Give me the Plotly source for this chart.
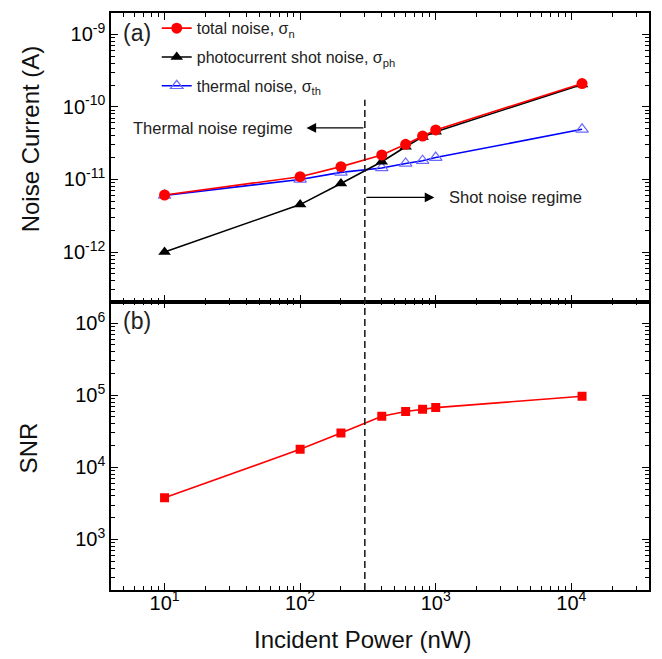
import numpy as np
import plotly.graph_objects as go

# ---------------- data ----------------
power_nW = [10, 100, 200, 400, 600, 800, 1000, 12000]
total_noise = [6.1e-12, 1.09e-11, 1.50e-11, 2.17e-11, 3.05e-11, 3.95e-11, 4.8e-11, 2.09e-10]
shot_noise = [1.0e-12, 4.5e-12, 8.8e-12, 1.75e-11, 2.82e-11, 3.85e-11, 4.55e-11, 2.03e-10]
thermal_noise = [6.0e-12, 1.0e-11, 1.25e-11, 1.44e-11, 1.66e-11, 1.81e-11, 2.0e-11, 4.9e-11]
snr = [3770, 17800, 29900, 51000, 59300, 63800, 67300, 96600]

regime_boundary_nW = 300

x_tick_exp = [1, 2, 3, 4]
y1_tick_exp = [-9, -10, -11, -12]
y2_tick_exp = [3, 4, 5, 6]

FONT = "Liberation Sans, Arial, sans-serif"


def ticks(exps):
    vals = [10.0 ** e for e in exps]
    text = ["10<sup>%d</sup>" % e for e in exps]
    return vals, text


def minor_vals(lo, hi):
    out = []
    for e in range(lo, hi + 1):
        for k in range(2, 10):
            out.append(k * 10.0 ** e)
    return out


fig = go.Figure()

# draw order: thermal, shot, total (total on top); legend order via legendrank
fig.add_trace(go.Scatter(
    x=power_nW, y=thermal_noise, mode="lines+markers",
    name="thermal noise, σ<sub>th</sub>", legendrank=3, legendgroup="c",
    line=dict(color="#0000FF", width=1.6),
    marker=dict(symbol="triangle-up-open", size=11, color="#6A6AFF", line=dict(width=1.2)),
    xaxis="x", yaxis="y"))
fig.add_trace(go.Scatter(
    x=power_nW, y=shot_noise, mode="lines+markers",
    name="photocurrent shot noise, σ<sub>ph</sub>", legendrank=2, legendgroup="b",
    line=dict(color="#000000", width=1.6),
    marker=dict(symbol="triangle-up", size=11, color="#000000"),
    xaxis="x", yaxis="y"))
fig.add_trace(go.Scatter(
    x=power_nW, y=total_noise, mode="lines+markers",
    name="total noise, σ<sub>n</sub>", legendrank=1, legendgroup="a",
    line=dict(color="#FF0000", width=1.6),
    marker=dict(symbol="circle", size=11, color="#FF0000"),
    xaxis="x", yaxis="y"))
fig.add_trace(go.Scatter(
    x=power_nW, y=snr, mode="lines+markers", showlegend=False,
    line=dict(color="#FF0000", width=1.6),
    marker=dict(symbol="square", size=9, color="#FF0000"),
    xaxis="x2", yaxis="y2"))

xv, xt = ticks(x_tick_exp)
y1v, y1t = ticks(y1_tick_exp)
y2v, y2t = ticks(y2_tick_exp)

axis_common = dict(
    type="log", showline=True, linecolor="black", linewidth=1.5, mirror="allticks",
    ticks="inside", ticklen=7, tickwidth=1.3, tickcolor="black", showgrid=False,
    zeroline=False, tickmode="array",
    tickfont=dict(family=FONT, size=20, color="black"),
)
xrange = [0.605, 4.573]

fig.update_layout(
    width=662, height=659,
    margin=dict(l=111, r=11, t=12, b=69),
    paper_bgcolor="white", plot_bgcolor="white",
    font=dict(family=FONT, color="#222222"),
    xaxis=dict(axis_common, domain=[0, 1], anchor="y", range=xrange,
               tickvals=xv, ticktext=xt, showticklabels=False,
               minor=dict(tickmode="array", tickvals=minor_vals(0, 4), ticks="inside",
                          ticklen=4, tickwidth=1.1, tickcolor="black")),
    yaxis=dict(axis_common, domain=[0.5, 1], anchor="x", range=[-12.682, -8.707],
               tickvals=y1v, ticktext=y1t,
               minor=dict(tickmode="array", tickvals=minor_vals(-13, -9), ticks="inside",
                          ticklen=4, tickwidth=1.1, tickcolor="black")),
    xaxis2=dict(axis_common, domain=[0, 1], anchor="y2", range=xrange,
                tickvals=xv, ticktext=xt, ticklabelstandoff=-6,
                minor=dict(tickmode="array", tickvals=minor_vals(0, 4), ticks="inside",
                           ticklen=4, tickwidth=1.1, tickcolor="black")),
    yaxis2=dict(axis_common, domain=[0, 0.5], anchor="x2", range=[2.298, 6.30],
                tickvals=y2v, ticktext=y2t,
                minor=dict(tickmode="array", tickvals=minor_vals(2, 6), ticks="inside",
                           ticklen=4, tickwidth=1.1, tickcolor="black")),
    legend=dict(x=0.085, y=1.003, xanchor="left", yanchor="top",
                bgcolor="rgba(0,0,0,0)", traceorder="grouped", tracegroupgap=5,
                font=dict(family=FONT, size=16, color="#222222")),
    showlegend=True,
)

# regime boundary (dashed vertical line)
fig.add_shape(type="line", xref="x", yref="paper",
              x0=regime_boundary_nW, x1=regime_boundary_nW, y0=0, y1=0.8495,
              line=dict(color="#222222", width=1.6, dash="7px,4px"))

lb = np.log10(regime_boundary_nW)
y_th = -10.29
y_sh = -11.248
ann = []
# arrows
ann.append(dict(xref="x", yref="y", axref="x", ayref="y",
                x=2.047, y=y_th, ax=lb, ay=y_th, text="", showarrow=True,
                arrowhead=2, arrowsize=1.6, arrowwidth=1.2, arrowcolor="black",
                standoff=0, startstandoff=0))
ann.append(dict(xref="x", yref="y", axref="x", ayref="y",
                x=2.990, y=y_sh, ax=lb, ay=y_sh, text="", showarrow=True,
                arrowhead=2, arrowsize=1.6, arrowwidth=1.2, arrowcolor="black",
                standoff=0, startstandoff=0))
ann.append(dict(xref="x", yref="y", x=1.358, y=y_th, text="Thermal noise regime",
                xanchor="center", yanchor="middle",
                showarrow=False, font=dict(family=FONT, size=16.5, color="#222222")))
ann.append(dict(xref="x", yref="y", x=3.586, y=y_sh, text="Shot noise regime",
                xanchor="center", yanchor="middle",
                showarrow=False, font=dict(family=FONT, size=16.5, color="#222222")))
# panel labels
ann.append(dict(xref="paper", yref="paper", x=0.0484, y=0.966, text="(a)",
                xanchor="center", yanchor="middle",
                showarrow=False, font=dict(family=FONT, size=23, color="#222222")))
ann.append(dict(xref="paper", yref="paper", x=0.0484, y=0.4654, text="(b)",
                xanchor="center", yanchor="middle",
                showarrow=False, font=dict(family=FONT, size=23, color="#222222")))
# axis titles
ann.append(dict(xref="paper", yref="paper", x=-0.1495, y=0.782, text="Noise Current (A)",
                xanchor="center", yanchor="middle", textangle=-90,
                showarrow=False, font=dict(family=FONT, size=24, color="#111111")))
ann.append(dict(xref="paper", yref="paper", x=-0.154, y=0.2457, text="SNR",
                xanchor="center", yanchor="middle", textangle=-90,
                showarrow=False, font=dict(family=FONT, size=24, color="#111111")))
ann.append(dict(xref="paper", yref="paper", x=0.4674, y=-0.0865, text="Incident Power (nW)",
                xanchor="center", yanchor="middle",
                showarrow=False, font=dict(family=FONT, size=24, color="#111111")))
fig.update_layout(annotations=ann)

fig.write_html("out.html", config={"displayModeBar": False},
               post_script="document.body.style.margin='0px';")
